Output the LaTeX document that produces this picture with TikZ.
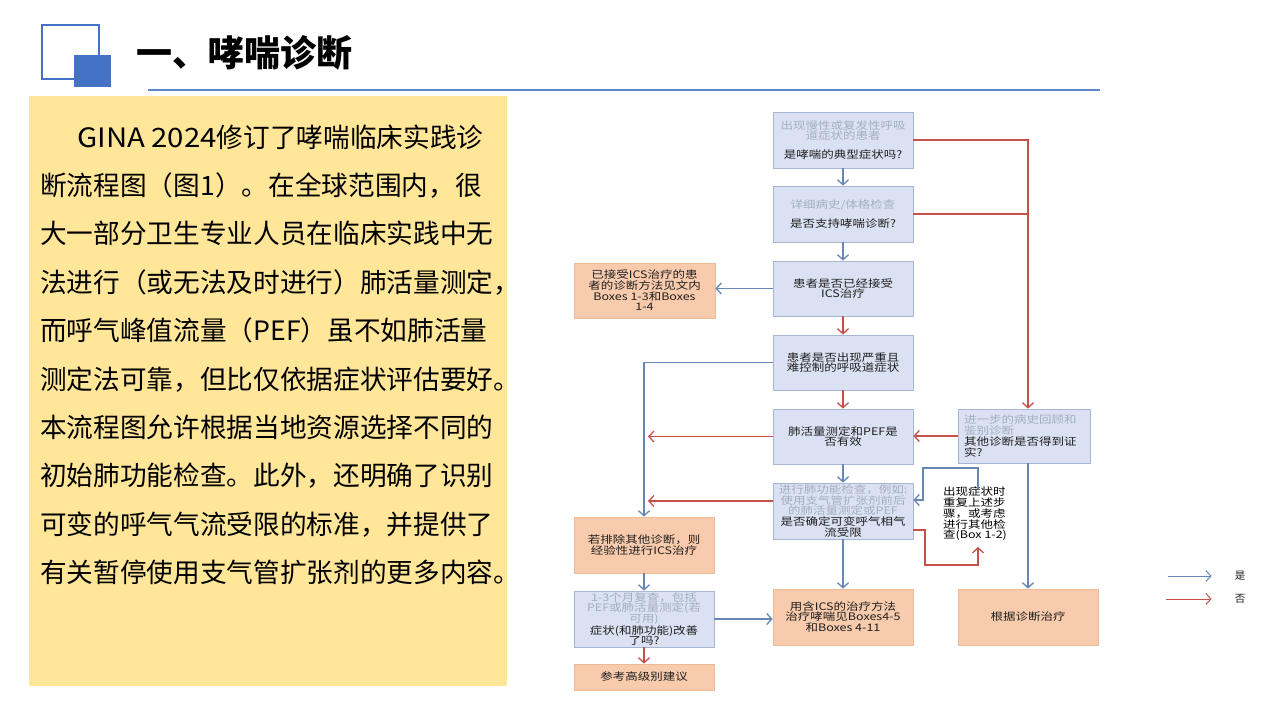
\documentclass[tikz,border=0pt]{standalone}
\usepackage{fontspec}
\usepackage{graphicx}
\setmainfont{Noto Sans CJK SC}
\usetikzlibrary{arrows.meta,calc}

\definecolor{hdblue}{HTML}{4472C4}
\definecolor{yel}{HTML}{FFE699}
\definecolor{bfill}{HTML}{DAE1F2}
\definecolor{bdraw}{HTML}{A7B6D4}
\definecolor{ofill}{HTML}{F8CBAD}
\definecolor{odraw}{HTML}{EDBA98}
\definecolor{gtxt}{HTML}{A4ADBF}
\definecolor{dtxt}{HTML}{1E1E1E}
\definecolor{ablue}{HTML}{6787B5}
\definecolor{ared}{HTML}{C8504B}

\newcommand\fcc[2]{\scalebox{1}[0.83]{\parbox{#1pt}{\centering\fontsize{12.5}{12.9}\selectfont #2}}}
\newcommand\fcl[2]{\scalebox{1}[0.83]{\parbox{#1pt}{\raggedright\fontsize{12.5}{12.9}\selectfont #2}}}
\newcommand\gt{\color{gtxt}}

\tikzset{
  bbox/.style={draw=bdraw, fill=bfill, line width=0.8pt, minimum width=140pt, minimum height=56pt, inner sep=0pt, text=dtxt},
  obox/.style={draw=odraw, fill=ofill, line width=0.8pt, minimum width=140pt, minimum height=56pt, inner sep=0pt, text=dtxt},
  ya/.style={draw=ablue, line width=1.3pt, -{Straight Barb[length=5pt,width=11pt]}},
  na/.style={draw=ared, line width=1.3pt, -{Straight Barb[length=5pt,width=11pt]}},
  nl/.style={draw=ared, line width=1.3pt},
  body/.style={anchor=base west, inner sep=0pt, text=black, font=\fontsize{26.67}{30}\selectfont},
}

\begin{document}
\begin{tikzpicture}[x=1pt,y=-1pt]
\useasboundingbox (0,0) rectangle (1280,720);
\fill[white] (0,0) rectangle (1280,720);

% header
\draw[hdblue, line width=1.3pt] (42,25) rectangle (99,79);
\fill[hdblue] (74,55) rectangle (111,87);
\node[anchor=base west, inner sep=0pt, font=\fontsize{36}{40}\selectfont\bfseries] (title) at (136,66) {一、哮喘诊断};
\draw[hdblue!85!white, line width=1.5pt] (148,90) -- (1100,90);

% yellow text panel
\fill[yel] (29,96) rectangle (507,686);
\node[body] (t1) at (77,147) {\scalebox{1.1}[1]{GINA 2024}修订了哮喘临床实践诊};
\node[body] (t2) at (40,195.4) {断流程图（图1）。在全球范围内，很};
\node[body] (t3) at (40,243.8) {大一部分卫生专业人员在临床实践中无};
\node[body] (t4) at (40,292.2) {法进行（或无法及时进行）肺活量测定，};
\node[body] (t5) at (40,340.6) {而呼气峰值流量（PEF）虽不如肺活量};
\node[body] (t6) at (40,389.0) {测定法可靠，但比仅依据症状评估要好。};
\node[body] (t7) at (40,437.4) {本流程图允许根据当地资源选择不同的};
\node[body] (t8) at (40,485.8) {初始肺功能检查。此外，还明确了识别};
\node[body] (t9) at (40,534.2) {可变的呼气气流受限的标准，并提供了};
\node[body] (t10) at (40,582.6) {有关暂停使用支气管扩张剂的更多内容。};

% flowchart boxes
\node[bbox] (b1) at (843,140) {\fcc{138}{{\gt 出现慢性或复发性呼吸\\道症状的患者}\\[10pt]是哮喘的典型症状吗?}};
\node[bbox] (b2) at (843,214) {\fcc{138}{{\gt 详细病史/体格检查}\\[10pt]是否支持哮喘诊断?}};
\node[bbox, minimum height=55pt] (b3) at (843,288.5) {\fcc{138}{患者是否已经接受\\ICS治疗}};
\node[bbox, minimum height=55pt] (b4) at (843,362.5) {\fcc{138}{患者是否出现严重且\\难控制的呼吸道症状}};
\node[bbox, minimum height=55pt] (b5) at (843,436.5) {\fcc{138}{肺活量测定和PEF是\\否有效}};
\node[bbox] (b6) at (843,511) {\fcc{139}{{\gt 进行肺功能检查，例如:\\使用支气管扩张剂前后\\的肺活量测定或PEF}\\是否确定可变呼气相气\\流受限}};
\node[obox] (b7) at (843,617) {\fcc{138}{用含ICS的治疗方法\\治疗哮喘见Boxes4-5\\和Boxes 4-11}};

\node[obox, minimum width=141pt, minimum height=55pt] (l1) at (644.5,290.5) {\fcc{138}{已接受ICS治疗的患\\者的诊断方法见文内\\Boxes 1-3和Boxes\\1-4}};
\node[obox] (l2) at (644,545) {\fcc{138}{若排除其他诊断，则\\经验性进行ICS治疗}};
\node[bbox] (l3) at (644,619) {\fcc{138}{{\gt 1-3个月复查，包括\\PEF或肺活量测定(若\\可用)}\\症状(和肺功能)改善\\了吗?}};
\node[obox, minimum height=26pt] (l4) at (644,677) {\fcc{138}{参考高级别建议}};

\node[bbox, minimum width=132pt, minimum height=54pt] (r1) at (1024,436) {\fcl{120}{{\gt 进一步的病史回顾和\\鉴别诊断}\\其他诊断是否得到证\\实?}};
\node[obox] (r2) at (1028,617) {\fcc{138}{根据诊断治疗}};

\node[anchor=north west, inner sep=0pt, text=black] (note) at (943,487) {\fcl{72}{出现症状时\\重复上述步\\骤，或考虑\\进行其他检\\查(Box 1-2)}};

\coordinate (vx) at (648,0);
\coordinate (nt) at (978,489);
\coordinate (nb) at (978,547);

% yes (blue) connectors
\draw[ya] (b1.south) -- (b2.north);
\draw[ya] (b2.south) -- (b3.north);
\draw[ya] (b3.west) -- (b3.west -| l1.east);
\draw[ya] (b4.west) -| (l2.north);
\draw[ya] (b5.south) -- (b6.north);
\draw[ya] (b6.south) -- (b7.north);
\draw[ya] (l2.south) -- (l3.north);
\draw[ya] (l3.east) -- (l3.east -| b7.west);
\draw[ya] (r2.north |- r1.south) -- (r2.north);
\draw[ya] (nt) -- (978,468) -- (923,468) -- (923,500) -- ($(b6.east)+(0,-11)$);

% no (red) connectors
\draw[na] (b1.east) -| (r2.north |- r1.north);
\draw[nl] (b2.east) -- (b2.east -| r2.north);
\draw[na] (b3.south) -- (b4.north);
\draw[na] (b4.south) -- (b5.north);
\draw[na] (b5.west) -- (vx |- b5.west);
\draw[na] (r1.west) -- (r1.west -| b5.east);
\draw[na] ($(b6.west)+(0,-10)$) -- ($(vx |- b6.west)+(0,-10)$);
\draw[na] ($(b6.east)+(0,19)$) -- (925,530) -- (925,565) -- (978,565) -- (nb);
\draw[na] (l3.south) -- (l4.north);

% legend
\node[inner sep=0pt, font=\fontsize{10.5}{12}\selectfont, text=dtxt] (yes) at (1240,576) {是};
\node[inner sep=0pt, font=\fontsize{10.5}{12}\selectfont, text=dtxt] (no) at (1240,599) {否};
\draw[ya, line width=1pt] ($(yes.west)+(-67,0)$) -- ($(yes.west)+(-23,0)$);
\draw[na, line width=1pt] ($(no.west)+(-69,0)$) -- ($(no.west)+(-23,0)$);
\end{tikzpicture}
\end{document}
